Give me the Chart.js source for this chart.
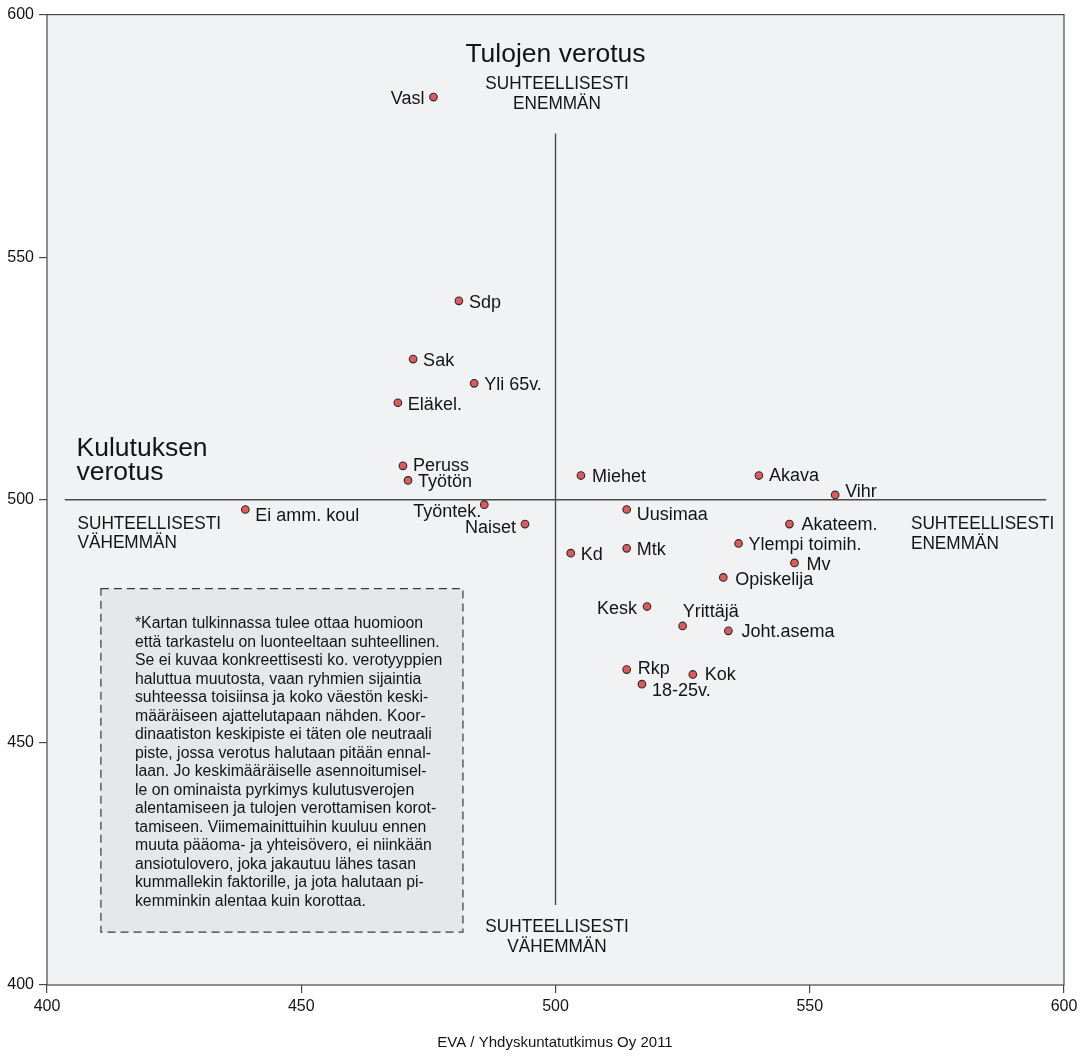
<!DOCTYPE html>
<html lang="fi">
<head>
<meta charset="utf-8">
<title>Kulutuksen ja tulojen verotus</title>
<script src="https://cdn.jsdelivr.net/npm/chart.js@4.4.1/dist/chart.umd.min.js"></script>
<style>
  html, body { margin: 0; padding: 0; background: #fff; }
  #wrap { width: 1089px; height: 1057px; }
</style>
</head>
<body>
<div id="wrap"><canvas id="taxMap" width="1089" height="1057"></canvas></div>
<script>
// groups and their position on the map (x = consumption tax, y = income tax)
const groups = ['Vasl', 'Sdp', 'Sak', 'Yli 65v.', 'Eläkel.', 'Peruss', 'Työtön', 'Työntek.', 'Naiset',
    'Ei amm. koul', 'Miehet', 'Akava', 'Vihr', 'Uusimaa', 'Akateem.', 'Ylempi toimih.', 'Kd', 'Mtk',
    'Mv', 'Opiskelija', 'Kesk', 'Yrittäjä', 'Joht.asema', 'Rkp', 'Kok', '18-25v.'];
const consumptionTax = [476, 481, 472, 484, 469, 470, 471, 486, 494, 439, 505, 540, 555, 514, 546,
    536, 503, 514, 547, 533, 518, 525, 534, 514, 527, 517];
const incomeTax = [583, 541, 529, 524, 520, 507, 504, 499, 495, 498, 505, 505, 501, 498, 495,
    491, 489, 490, 487, 484, 478, 474, 473, 465, 464, 462];
const axisTicks = [400, 450, 500, 550, 600];

const FONT = '"Liberation Sans", Arial, Helvetica, sans-serif';
const INK = '#141414';
const LINE = '#4a4a4a';

// label placement: [dx, dy, align], default is to the right of the dot
const labelOffsets = {
    'Vasl': [-9, 2, 'right'],
    'Työntek.': [-3, 7, 'right'],
    'Naiset': [-9, 4, 'right'],
    'Kesk': [-10, 2, 'right'],
    'Yrittäjä': [0, -14, 'left'],
    '18-25v.': [10, 7, 'left'],
    'Ei amm. koul': [10, 7, 'left'],
    'Uusimaa': [10, 6, 'left'],
    'Vihr': [10, -3, 'left'],
    'Peruss': [10, 0, 'left'],
    'Akava': [10, 0, 'left'],
    'Miehet': [11, 1, 'left'],
    'Joht.asema': [13, 1, 'left'],
    'Akateem.': [12, 1, 'left'],
    'Opiskelija': [12, 3, 'left'],
    'Mv': [12, 2, 'left'],
    'Kok': [12, 1, 'left'],
    'Rkp': [11, -1, 'left'],
};

const noteLines = [
    '*Kartan tulkinnassa tulee ottaa huomioon',
    'että tarkastelu on luonteeltaan suhteellinen.',
    'Se ei kuvaa konkreettisesti ko. verotyyppien',
    'haluttua muutosta, vaan ryhmien sijaintia',
    'suhteessa toisiinsa ja koko väestön keski-',
    'määräiseen ajattelutapaan nähden. Koor-',
    'dinaatiston keskipiste ei täten ole neutraali',
    'piste, jossa verotus halutaan pitään ennal-',
    'laan. Jo keskimääräiselle asennoitumisel-',
    'le on ominaista pyrkimys kulutusverojen',
    'alentamiseen ja tulojen verottamisen korot-',
    'tamiseen. Viimemainittuihin kuuluu ennen',
    'muuta pääoma- ja yhteisövero, ei niinkään',
    'ansiotulovero, joka jakautuu lähes tasan',
    'kummallekin faktorille, ja jota halutaan pi-',
    'kemminkin alentaa kuin korottaa.',
];

// condensed capitals used for the axis end labels
function squeezeText(ctx, text, x, y, align, sx) {
    ctx.save();
    ctx.translate(x, y);
    ctx.scale(sx, 1);
    ctx.textAlign = align;
    ctx.fillText(text, 0, 0);
    ctx.restore();
}

const mapDecor = {
    id: 'mapDecor',
    beforeDraw(chart) {
        const { ctx, chartArea: a } = chart;
        ctx.save();
        ctx.fillStyle = '#f1f2f4';
        ctx.fillRect(a.left, a.top, a.right - a.left, a.bottom - a.top);
        ctx.restore();
    },
    beforeDatasetsDraw(chart) {
        const { ctx, chartArea: a, scales: { x, y } } = chart;
        ctx.save();

        // frame
        ctx.strokeStyle = LINE;
        ctx.lineWidth = 1.2;
        ctx.strokeRect(a.left, a.top, a.right - a.left, a.bottom - a.top);

        // cross through the average
        ctx.lineWidth = 1.4;
        ctx.beginPath();
        ctx.moveTo(x.getPixelForValue(403.5), y.getPixelForValue(500));
        ctx.lineTo(x.getPixelForValue(596.5), y.getPixelForValue(500));
        ctx.moveTo(x.getPixelForValue(500), y.getPixelForValue(575.5));
        ctx.lineTo(x.getPixelForValue(500), y.getPixelForValue(416.5));
        ctx.stroke();

        // note box
        const bx0 = x.getPixelForValue(410.6), bx1 = x.getPixelForValue(481.8);
        const by0 = y.getPixelForValue(481.7), by1 = y.getPixelForValue(410.9);
        ctx.fillStyle = '#e6e7e9';
        ctx.fillRect(bx0, by0, bx1 - bx0, by1 - by0);
        ctx.setLineDash([8, 5]);
        ctx.lineWidth = 1.2;
        ctx.strokeStyle = '#3a3a3a';
        ctx.strokeRect(bx0, by0, bx1 - bx0, by1 - by0);
        ctx.setLineDash([]);

        ctx.fillStyle = INK;
        ctx.textBaseline = 'middle';
        ctx.textAlign = 'left';
        ctx.font = '15.8px ' + FONT;
        const tx = x.getPixelForValue(417.3);
        let ty = y.getPixelForValue(474.4);
        noteLines.forEach(line => {
            ctx.fillText(line, tx, ty);
            ty += 18.5;
        });

        // headings
        ctx.font = '26.5px ' + FONT;
        ctx.textAlign = 'center';
        ctx.fillText('Tulojen verotus', x.getPixelForValue(500), y.getPixelForValue(591.8));
        ctx.textAlign = 'left';
        ctx.fillText('Kulutuksen', x.getPixelForValue(405.8), y.getPixelForValue(510.5));
        ctx.fillText('verotus', x.getPixelForValue(405.8), y.getPixelForValue(505.6));

        // axis end labels
        ctx.font = '18.5px ' + FONT;
        const sx = 0.93;
        squeezeText(ctx, 'SUHTEELLISESTI', x.getPixelForValue(500.3), y.getPixelForValue(585.7), 'center', sx);
        squeezeText(ctx, 'ENEMMÄN', x.getPixelForValue(500.3), y.getPixelForValue(581.6), 'center', sx);
        squeezeText(ctx, 'SUHTEELLISESTI', x.getPixelForValue(500.3), y.getPixelForValue(411.9), 'center', sx);
        squeezeText(ctx, 'VÄHEMMÄN', x.getPixelForValue(500.3), y.getPixelForValue(407.9), 'center', sx);
        squeezeText(ctx, 'SUHTEELLISESTI', x.getPixelForValue(406.0), y.getPixelForValue(495.1), 'left', sx);
        squeezeText(ctx, 'VÄHEMMÄN', x.getPixelForValue(406.0), y.getPixelForValue(491.2), 'left', sx);
        squeezeText(ctx, 'SUHTEELLISESTI', x.getPixelForValue(569.9), y.getPixelForValue(495.0), 'left', sx);
        squeezeText(ctx, 'ENEMMÄN', x.getPixelForValue(569.9), y.getPixelForValue(491.0), 'left', sx);

        ctx.restore();
    },
    afterDatasetsDraw(chart) {
        const { ctx } = chart;
        const pts = chart.getDatasetMeta(0).data;
        ctx.save();
        ctx.font = '18px ' + FONT;
        ctx.fillStyle = INK;
        ctx.textBaseline = 'middle';
        pts.forEach((p, i) => {
            const [dx, dy, align] = labelOffsets[groups[i]] || [10, 2, 'left'];
            ctx.textAlign = align;
            ctx.fillText(groups[i], p.x + dx, p.y + dy);
        });
        ctx.restore();
    },
    afterDraw(chart) {
        const { ctx } = chart;
        ctx.save();
        ctx.font = '15px ' + FONT;
        ctx.fillStyle = INK;
        ctx.textAlign = 'center';
        ctx.textBaseline = 'middle';
        ctx.fillText('EVA / Yhdyskuntatutkimus Oy 2011', 555, 1043);
        ctx.restore();
    }
};

const tickStyle = {
    font: { size: 16, family: FONT },
    color: INK,
    maxRotation: 0,
    autoSkip: false,
};

new Chart(document.getElementById('taxMap'), {
    type: 'scatter',
    data: {
        datasets: [{
            label: 'Ryhmät',
            data: groups.map((g, i) => ({ x: consumptionTax[i], y: incomeTax[i] })),
            pointRadius: 3.8,
            pointHoverRadius: 3.8,
            pointBackgroundColor: '#e05a5a',
            pointBorderColor: '#2a2a2a',
            pointBorderWidth: 1.1,
        }]
    },
    options: {
        responsive: false,
        animation: false,
        devicePixelRatio: 1,
        layout: { padding: { top: 13, right: 25, left: 0, bottom: 0 } },
        plugins: {
            legend: { display: false },
            tooltip: { enabled: false }
        },
        scales: {
            x: {
                type: 'linear',
                min: 400,
                max: 600,
                afterBuildTicks: s => { s.ticks = axisTicks.map(v => ({ value: v })); },
                afterFit: s => { s.height = 72; },
                ticks: { ...tickStyle, padding: 4 },
                grid: { drawOnChartArea: false, tickLength: 8, color: LINE, lineWidth: 1.2 },
                border: { display: false }
            },
            y: {
                type: 'linear',
                min: 400,
                max: 600,
                afterBuildTicks: s => { s.ticks = axisTicks.map(v => ({ value: v })); },
                afterFit: s => { s.width = 47; },
                ticks: { ...tickStyle, padding: 5 },
                grid: { drawOnChartArea: false, tickLength: 8, color: LINE, lineWidth: 1.2 },
                border: { display: false }
            }
        }
    },
    plugins: [mapDecor]
});
</script>
</body>
</html>
